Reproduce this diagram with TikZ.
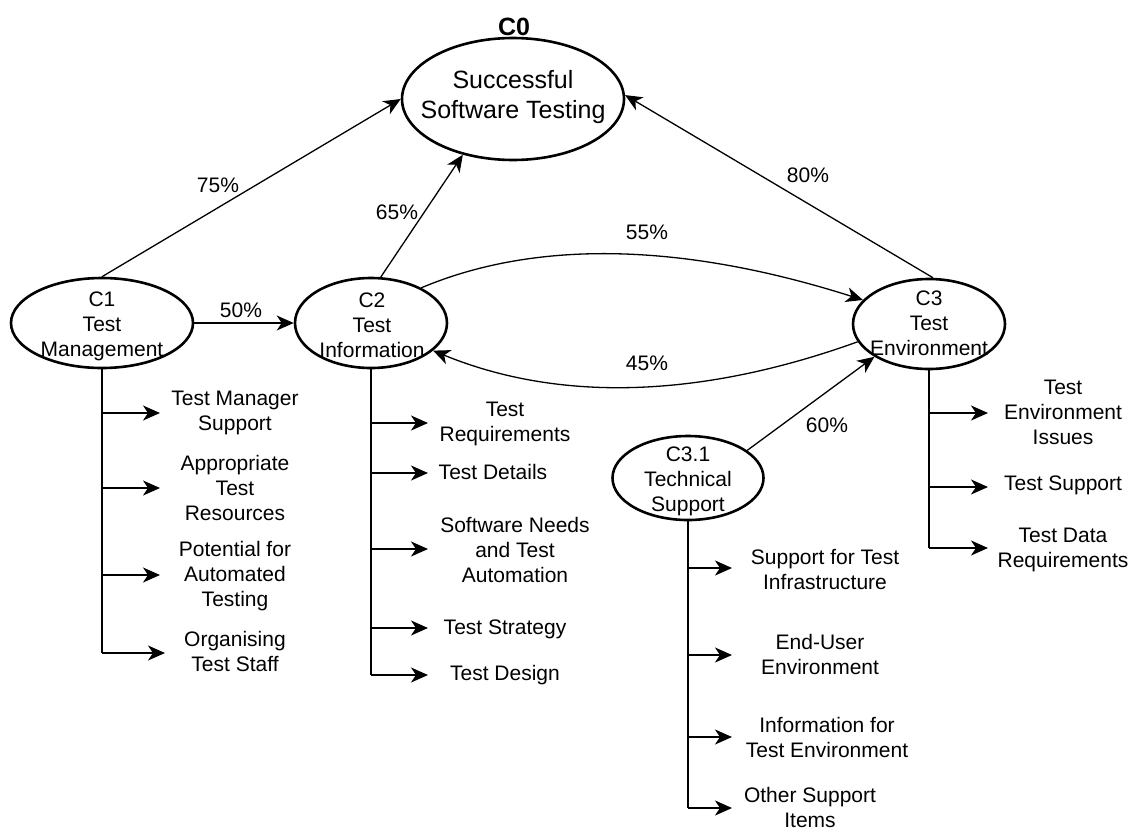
\documentclass[tikz,border=0pt]{standalone}
\usepackage{fontspec}
\setmainfont{Liberation Sans}
\usetikzlibrary{arrows.meta,shapes.geometric}
\begin{document}
\begin{tikzpicture}[x=1pt,y=-1pt,
  concept/.style={ellipse,draw,line width=2.6pt,inner sep=0pt,
                  minimum width=152pt,minimum height=90pt},
  txt/.style={align=center,inner sep=0pt,font=\fontsize{21pt}{25pt}\selectfont},
  link/.style={line width=1.3pt,-{Stealth[length=17pt,width=15pt,inset=5pt]}},
  trunk/.style={line width=1.8pt},
  branch/.style={line width=1.8pt,-{Stealth[length=17pt,width=15pt,inset=5pt]}},
  pct/.style={inner sep=0pt,font=\fontsize{21pt}{25pt}\selectfont}]
\useasboundingbox (0,0) rectangle (1134,833);

% concepts
\node[concept,minimum width=222pt,minimum height=122pt] (c0) at (513,99) {};
\node[txt,font=\fontsize{25pt}{30pt}\selectfont] (c0t) at (513,97) {Successful\\Software Testing};
\node[inner sep=0pt,font=\bfseries\fontsize{25pt}{30pt}\selectfont] (c0id) at (514,27) {C0};

\node[concept,minimum width=182pt] (c1) at (102,323) {};
\node[txt] (c1t) at (102,326) {C1\\Test\\Management};

\node[concept] (c2) at (371,323) {};
\node[txt] (c2t) at (372,325) {C2\\Test\\Information};

\node[concept] (c3) at (929,324) {};
\node[txt] (c3t) at (929,323) {C3\\Test\\Environment};

\node[concept,minimum width=151pt,minimum height=84pt] (c31) at (688,478) {};
\node[txt] (c31t) at (688,481) {C3.1\\Technical\\Support};

% weighted links
\draw[link] (c1.90) -- (c0.180);
\node[pct] (p75) at (218,185) {75\%};
\draw[link] (c2.78) -- (c0.228);
\node[pct] (p65) at (397,212) {65\%};
\draw[link] (c3.85) -- (c0.2);
\node[pct] (p80) at (808,175) {80\%};
\draw[link] (c1.east) -- (c2.west);
\node[pct] (p50) at (241,310) {50\%};
\draw[link] (c2.35) .. controls (537,239) and (684,243) .. (c3.160);
\node[pct] (p55) at (647,232) {55\%};
\draw[link] (c3.194) .. controls (699,399) and (558,402) .. (c2.336);
\node[pct] (p45) at (647,363) {45\%};
\draw[link] (c31.25) -- (c3.211);
\node[pct] (p60) at (827,425) {60\%};

% C1 factors
\coordinate (a1) at (160,413);
\coordinate (a2) at (160,488);
\coordinate (a3) at (160,575);
\coordinate (a4) at (165,653);
\draw[trunk] (c1.south) -- (c1.south |- a4);
\foreach \t in {a1,a2,a3,a4} \draw[branch] (c1.south |- \t) -- (\t);
\node[txt] (la1) at (235,413) {Test Manager\\Support};
\node[txt] (la2) at (235,488) {Appropriate\\Test\\Resources};
\node[txt] (la3) at (235,576) {Potential for\\Automated\\Testing};
\node[txt] (la4) at (235,651) {Organising\\Test Staff};

% C2 factors
\coordinate (b1) at (428,423);
\coordinate (b2) at (428,473);
\coordinate (b3) at (428,549);
\coordinate (b4) at (428,628);
\coordinate (b5) at (428,675);
\draw[trunk] (c2.south) -- (c2.south |- b5);
\foreach \t in {b1,b2,b3,b4,b5} \draw[branch] (c2.south |- \t) -- (\t);
\node[txt] (lb1) at (505,424) {Test\\Requirements};
\node[txt] (lb2) at (493,472) {Test Details};
\node[txt] (lb3) at (515,550) {Software Needs\\and Test\\Automation};
\node[txt] (lb4) at (505,629) {Test Strategy};
\node[txt] (lb5) at (505,675) {Test Design};

% C3 factors
\coordinate (d1) at (988,413);
\coordinate (d2) at (988,487);
\coordinate (d3) at (988,548);
\draw[trunk] (c3.south) -- (c3.south |- d3);
\foreach \t in {d1,d2,d3} \draw[branch] (c3.south |- \t) -- (\t);
\node[txt] (ld1) at (1063,412) {Test\\Environment\\Issues};
\node[txt] (ld2) at (1063,485) {Test Support};
\node[txt] (ld3) at (1063,550) {Test Data\\Requirements};

% C3.1 factors
\coordinate (e1) at (732,568);
\coordinate (e2) at (732,655);
\coordinate (e3) at (732,737);
\coordinate (e4) at (732,808);
\draw[trunk] (c31.south) -- (c31.south |- e4);
\foreach \t in {e1,e2,e3,e4} \draw[branch] (c31.south |- \t) -- (\t);
\node[txt] (le1) at (825,569) {Support for Test\\Infrastructure};
\node[txt] (le2) at (820,654) {End-User\\Environment};
\node[txt] (le3) at (827,737) {Information for\\Test Environment};
\node[txt] (le4) at (810,807) {Other Support\\Items};
\end{tikzpicture}
\end{document}
